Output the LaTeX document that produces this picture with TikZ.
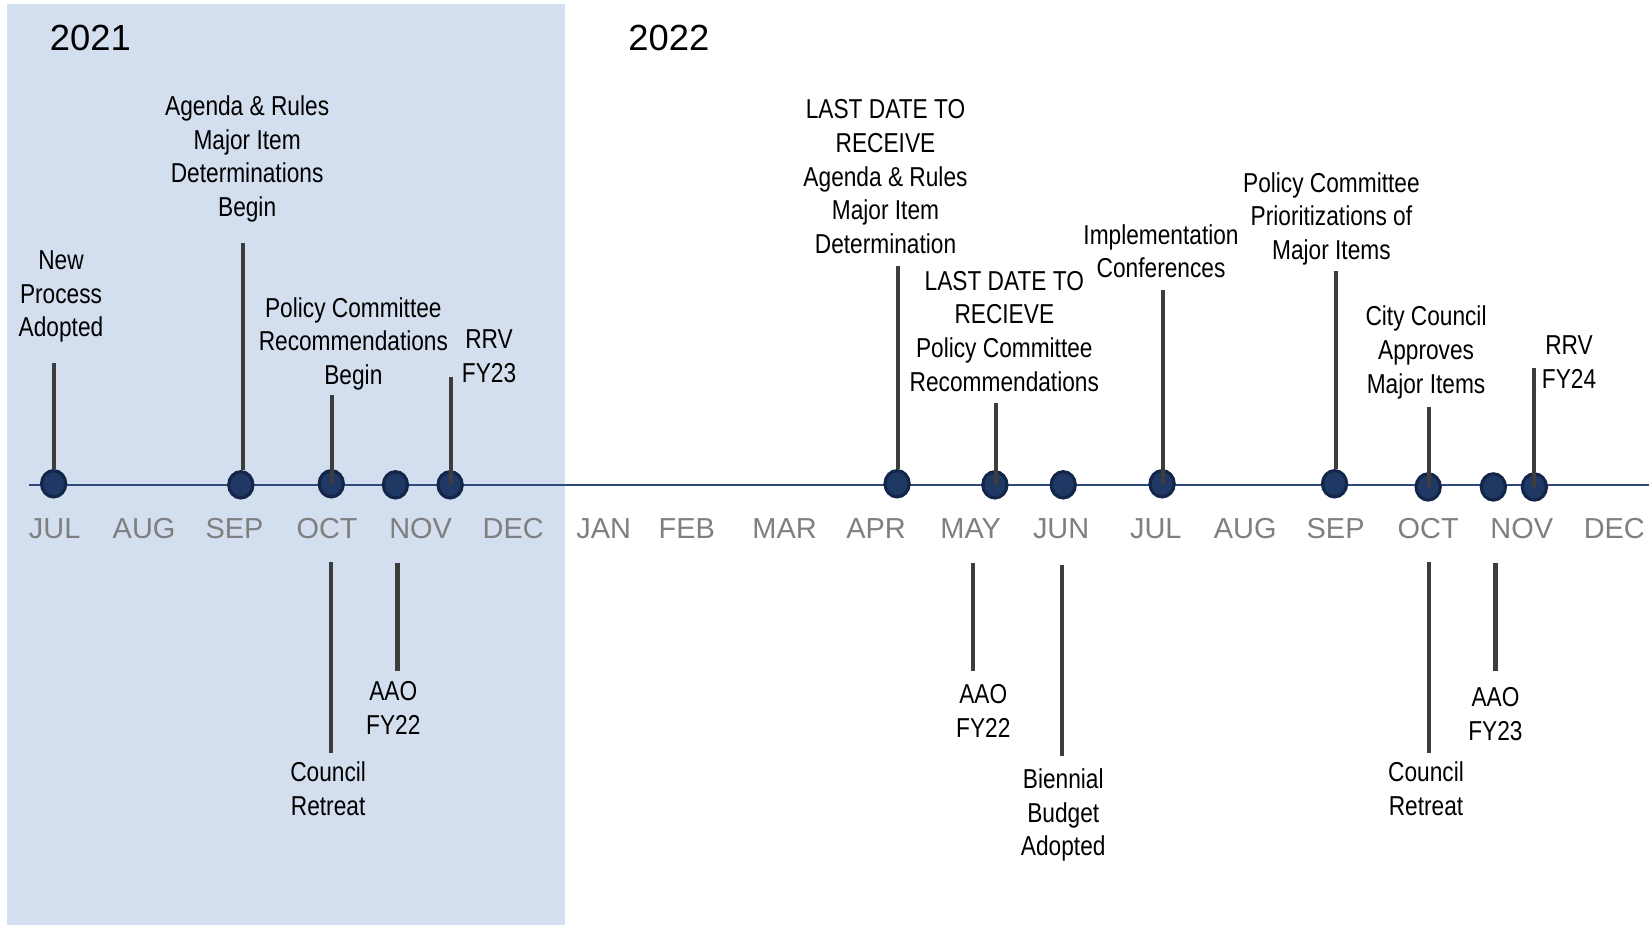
\documentclass[tikz,border=0pt]{standalone}
\usepackage{fontspec}
\setmainfont[FakeStretch=0.83]{Liberation Sans}
\newfontfamily\plainsans{Liberation Sans}
\usetikzlibrary{shapes.geometric}
\definecolor{panel}{HTML}{D3DFEE}
\definecolor{monthgray}{HTML}{7F7F7F}
\definecolor{dotfill}{HTML}{1F3864}
\definecolor{dotedge}{HTML}{13264A}
\definecolor{stemgray}{HTML}{3D3D3D}
\definecolor{axisblue}{HTML}{2E4A7D}
\tikzset{
  lbl/.style={align=center, font=\fontsize{13}{16}\selectfont, inner sep=0pt},
  mon/.style={font=\plainsans\fontsize{13.75}{16}\selectfont, text=monthgray, inner sep=0pt},
  yr/.style={font=\plainsans\fontsize{17.3}{20}\selectfont, inner sep=0pt},
  evdot/.style={ellipse, fill=dotfill, draw=dotedge, line width=1.5pt, minimum width=11.5pt, minimum height=12.5pt, inner sep=0pt},
  stem/.style={draw=stemgray, line width=2pt},
  axisline/.style={draw=axisblue, line width=1.2pt}
}
\begin{document}
\begin{tikzpicture}[x=0.5pt,y=-0.5pt]
\useasboundingbox (0,0) rectangle (1568,880);
\fill[panel] (7,4) rectangle (537,880);

% years
\node[yr] (y21) at (86,36) {2021};
\node[yr] (y22) at (636,36) {2022};

% axis
\coordinate (axL) at (28,461);
\coordinate (axR) at (1568,461);
\draw[axisline] (axL) -- (axR);

% months
\node[mon] (m1) at (52,503) {JUL};
\node[mon] (m2) at (137,503) {AUG};
\node[mon] (m3) at (223,503) {SEP};
\node[mon] (m4) at (311,503) {OCT};
\node[mon] (m5) at (400,503) {NOV};
\node[mon] (m6) at (488,503) {DEC};
\node[mon] (m7) at (574,503) {JAN};
\node[mon] (m8) at (653,503) {FEB};
\node[mon] (m9) at (746,503) {MAR};
\node[mon] (m10) at (833,503) {APR};
\node[mon] (m11) at (923,503) {MAY};
\node[mon] (m12) at (1009,503) {JUN};
\node[mon] (m13) at (1099,503) {JUL};
\node[mon] (m14) at (1184,503) {AUG};
\node[mon] (m15) at (1270,503) {SEP};
\node[mon] (m16) at (1358,503) {OCT};
\node[mon] (m17) at (1447,503) {NOV};
\node[mon] (m18) at (1535,503) {DEC};

% dots
\node[evdot] (d1) at (51,460) {};
\node[evdot] (d2) at (229,461) {};
\node[evdot] (d3) at (315,460) {};
\node[evdot] (d4) at (376,461) {};
\node[evdot] (d5) at (428,461) {};
\node[evdot] (d6) at (853,460) {};
\node[evdot] (d7) at (946,461) {};
\node[evdot] (d8) at (1011,461) {};
\node[evdot] (d9) at (1105,460) {};
\node[evdot] (d10) at (1269,460) {};
\node[evdot] (d11) at (1358,463) {};
\node[evdot] (d12) at (1420,463) {};
\node[evdot] (d13) at (1459,463) {};

% upper stems (vertical, from label gap down to the dot)
\coordinate (t1) at (51,345);
\coordinate (t2) at (231,231);
\coordinate (t3) at (316,376);
\coordinate (t4) at (429,358);
\coordinate (t5) at (854,253);
\coordinate (t6) at (947,383);
\coordinate (t7) at (1106,276);
\coordinate (t8) at (1270,258);
\coordinate (t9) at (1359,387);
\coordinate (t10) at (1459,350);
\draw[stem] (t1) -- (t1 |- d1.north);
\draw[stem] (t2) -- (t2 |- d2.north);
\draw[stem] (t3) -- (t3 |- d3.center);
\draw[stem] (t4) -- (t4 |- d5.center);
\draw[stem] (t5) -- (t5 |- d6.north);
\draw[stem] (t6) -- (t6 |- d7.center);
\draw[stem] (t7) -- (t7 |- d9.center);
\draw[stem] (t8) -- (t8 |- d10.north);
\draw[stem] (t9) -- (t9 |- d11.center);
\draw[stem] (t10) -- (t10 |- d13.center);

% lower stems
\coordinate (b1a) at (315,534); \coordinate (b1b) at (315,716);
\coordinate (b2a) at (378,535); \coordinate (b2b) at (378,638);
\coordinate (b3a) at (925,535); \coordinate (b3b) at (925,638);
\coordinate (b4a) at (1010,537); \coordinate (b4b) at (1010,719);
\coordinate (b5a) at (1359,534); \coordinate (b5b) at (1359,716);
\coordinate (b6a) at (1422,535); \coordinate (b6b) at (1422,638);
\draw[stem] (b1a) -- (b1b);
\draw[stem] (b2a) -- (b2b);
\draw[stem] (b3a) -- (b3b);
\draw[stem] (b4a) -- (b4b);
\draw[stem] (b5a) -- (b5b);
\draw[stem] (b6a) -- (b6b);

% upper labels
\node[lbl] (l1) at (58,282) {New\\Process\\Adopted};
\node[lbl] (l2) at (235,151) {Agenda \& Rules\\Major Item\\Determinations\\Begin};
\node[lbl] (l3) at (336,327) {Policy Committee\\Recommendations\\Begin};
\node[lbl] (l4) at (465,339) {RRV\\FY23};
\node[lbl] (l5) at (842,168) {LAST DATE TO\\RECEIVE\\Agenda \& Rules\\Major Item\\Determination};
\node[lbl] (l6) at (955,315) {LAST DATE TO\\RECIEVE\\Policy Committee\\Recommendations};
\node[lbl] (l7) at (1104,239) {Implementation\\Conferences};
\node[lbl] (l8) at (1266,208) {Policy Committee\\Prioritizations of\\Major Items};
\node[lbl] (l9) at (1356,335) {City Council\\Approves\\Major Items};
\node[lbl] (l10) at (1492,344) {RRV\\FY24};

% lower labels
\node[lbl] (l11) at (374,673) {AAO\\FY22};
\node[lbl] (l12) at (312,750) {Council\\Retreat};
\node[lbl] (l13) at (935,676) {AAO\\FY22};
\node[lbl] (l14) at (1011,775) {Biennial\\Budget\\Adopted};
\node[lbl] (l15) at (1356,750) {Council\\Retreat};
\node[lbl] (l16) at (1422,679) {AAO\\FY23};
\end{tikzpicture}
\end{document}
